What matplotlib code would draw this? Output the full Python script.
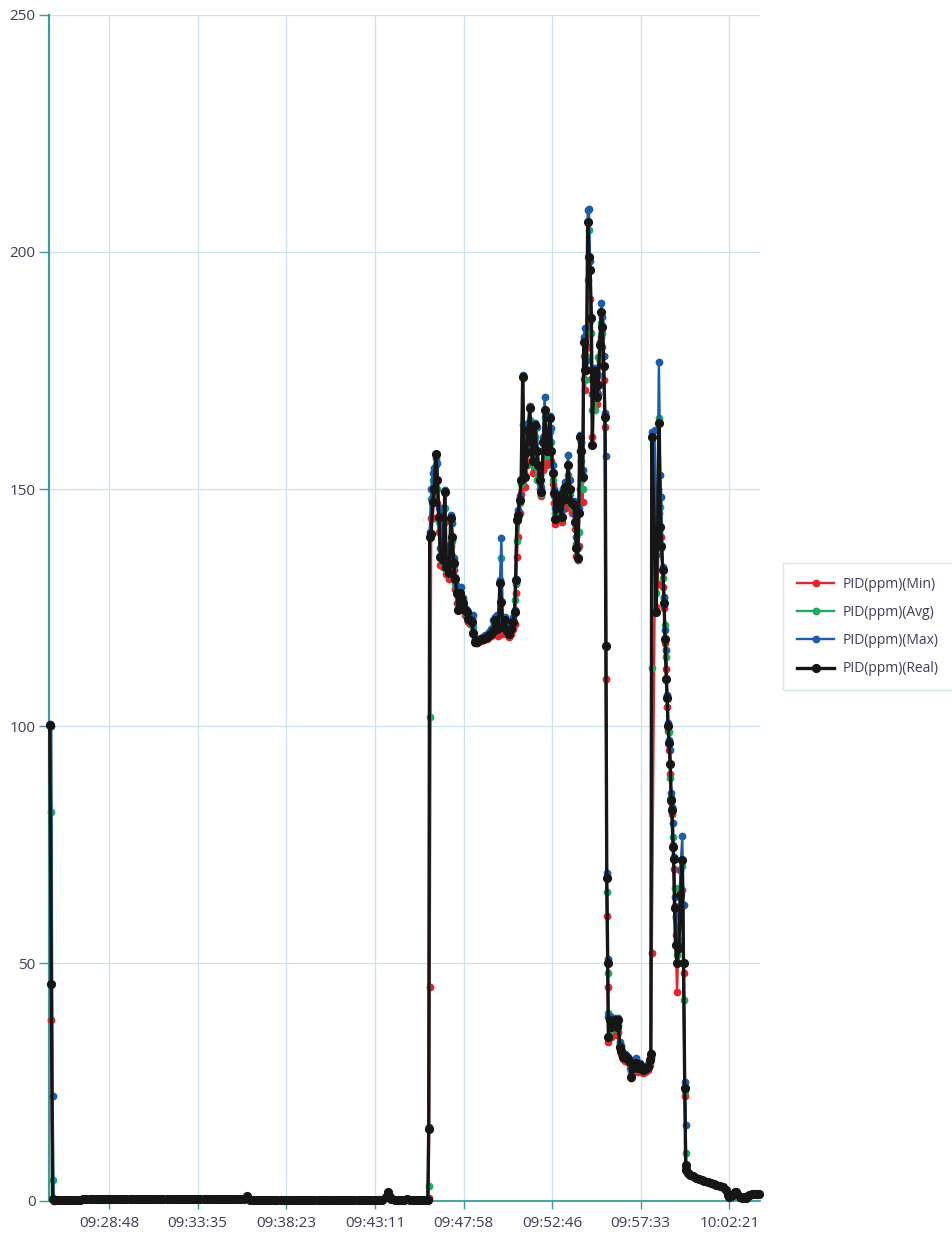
import numpy as np
import matplotlib
matplotlib.use('Agg')
import matplotlib.pyplot as plt
import matplotlib.dates as mdates

plt.rcParams['font.family'] = ['Open Sans', 'DejaVu Sans']

# log start, everything below is seconds after it
log_start = np.datetime64('2021-01-01T09:25:34')

# quiet stretches: every channel reads the same (idle + tail)
quiet_sec = [20, 30, 40, 50, 60, 70, 80, 90, 100, 110, 120, 130, 140, 150, 160, 170, 180,
             190, 200, 210, 220, 230, 240, 250, 260, 270, 280, 290, 300, 310, 320, 330,
             340, 350, 360, 370, 380, 390, 400, 410, 420, 430, 440, 450, 460, 470, 480,
             490, 500, 510, 520, 530, 540, 550, 560, 570, 580, 590, 600, 610, 620, 630,
             641, 650, 660, 670, 680, 690, 700, 710, 720, 730, 740, 750, 760, 770, 780,
             790, 800, 810, 820, 830, 840, 850, 860, 870, 880, 890, 900, 910, 920, 930,
             940, 950, 960, 970, 980, 990, 1000, 1010, 1020, 1030, 1040, 1050, 1060,
             1070, 1080, 1092, 1098, 1104, 1110, 1120, 1130, 1140, 1150, 1160, 1170,
             1180, 1190, 1200, 1210, 1220,
             2071, 2078, 2088, 2097, 2107, 2117, 2126, 2136, 2146, 2156, 2165, 2175,
             2185, 2195, 2201, 2206, 2211, 2217, 2224, 2228, 2233, 2240, 2247, 2253,
             2260, 2266, 2272, 2279, 2285, 2292, 2298, 2302]
quiet_ppm = [0.1, 0.1, 0.1, 0.1, 0.1, 0.1, 0.1, 0.1, 0.1, 0.4, 0.4, 0.4, 0.4, 0.4, 0.4, 0.4, 0.4,
             0.4, 0.4, 0.4, 0.4, 0.4, 0.4, 0.4, 0.4, 0.4, 0.4, 0.4, 0.4, 0.4, 0.4, 0.4,
             0.4, 0.4, 0.4, 0.4, 0.4, 0.4, 0.4, 0.4, 0.4, 0.4, 0.4, 0.4, 0.4, 0.4, 0.4,
             0.4, 0.4, 0.4, 0.4, 0.4, 0.4, 0.4, 0.4, 0.4, 0.4, 0.4, 0.4, 0.4, 0.4, 0.4,
             0.9, 0.1, 0.1, 0.1, 0.1, 0.1, 0.1, 0.1, 0.1, 0.1, 0.1, 0.1, 0.1, 0.1, 0.1,
             0.1, 0.1, 0.1, 0.1, 0.1, 0.1, 0.1, 0.1, 0.1, 0.1, 0.1, 0.1, 0.1, 0.1, 0.1,
             0.1, 0.1, 0.1, 0.1, 0.1, 0.1, 0.1, 0.1, 0.1, 0.1, 0.1, 0.1, 0.1,
             0.1, 0.1, 0.7, 1.9, 0.8, 0.3, 0.2, 0.1, 0.1, 0.1, 0.3, 0.1,
             0.1, 0.1, 0.1, 0.1, 0.1,
             5.8, 5.4, 5.1, 4.8, 4.6, 4.3, 4.1, 3.9, 3.7, 3.5, 3.3, 3.1,
             2.8, 2.3, 1.2, 0.8, 0.9, 1.2, 1.7, 1.9, 1.3, 0.8, 0.6, 0.7,
             0.6, 0.9, 1.2, 1.3, 1.4, 1.3, 1.4, 1.4]

# samples where the channels differ
t_sec = [1, 6, 10, 14,
         1228, 1231, 1234, 1239, 1244, 1249, 1254, 1259, 1264, 1269,
         1273, 1278, 1283, 1288, 1293, 1298, 1302, 1307, 1312, 1317,
         1322, 1327, 1332, 1336, 1341, 1348, 1354, 1359, 1364, 1370,
         1375, 1380, 1387, 1393, 1400, 1406, 1413, 1419, 1426, 1432,
         1439, 1445, 1451, 1457, 1462, 1467, 1471, 1478, 1484, 1491,
         1497, 1504, 1510, 1513, 1517, 1521, 1526, 1531, 1536, 1541,
         1544, 1549, 1554, 1559, 1564, 1568, 1575, 1581, 1586, 1591,
         1597, 1603, 1607, 1614, 1619, 1624, 1629, 1634, 1638, 1641,
         1646, 1651, 1656, 1662, 1667, 1672, 1678, 1683, 1689, 1695,
         1702, 1707, 1710, 1714, 1718, 1721, 1726, 1731, 1734, 1738,
         1743, 1747, 1751, 1755, 1759, 1762, 1766, 1771, 1776, 1781,
         1786, 1791, 1795, 1799, 1803, 1806, 1809, 1812, 1814, 1818,
         1823, 1828, 1834, 1841, 1846, 1851, 1856, 1861, 1867, 1872,
         1878, 1883, 1889, 1894, 1899, 1905, 1910, 1916, 1921, 1926,
         1932, 1937, 1943, 1948, 1952, 1955, 1964, 1969, 1974, 1978,
         1983, 1986, 1991, 1995, 1998, 2002, 2005, 2008, 2011, 2015,
         2018, 2020, 2024, 2026, 2029, 2032, 2037, 2043, 2048, 2054,
         2058, 2062, 2065, 2067]

ppm_real = [100.3, 45.6, 0.3, 0.1,
            0.2, 15.0, 140.0, 140.5, 147.3, 150.0, 157.4, 152.0, 144.2, 135.7,
            136.0, 135.0, 149.4, 133.6, 134.0, 132.3, 143.9, 140.0, 134.4, 131.0,
            128.0, 124.5, 128.0, 127.0, 125.9, 124.5, 124.1, 122.7, 122.3, 122.0,
            119.6, 117.8, 117.8, 118.1, 118.3, 118.5, 118.7, 118.8, 119.2, 119.5,
            120.0, 122.4, 120.5, 121.0, 130.3, 126.2, 121.0, 122.4, 120.0, 119.5,
            120.5, 122.0, 124.1, 130.8, 143.5, 144.5, 147.7, 151.9, 173.7, 155.1,
            152.6, 157.9, 162.4, 167.0, 160.0, 156.0, 163.5, 158.0, 155.1, 152.0,
            149.4, 160.0, 166.7, 158.0, 160.0, 164.9, 158.0, 153.3, 149.1, 143.8,
            146.0, 148.0, 147.0, 144.2, 149.1, 150.5, 148.0, 155.0, 150.0, 147.0,
            146.6, 143.1, 137.5, 135.4, 145.0, 161.0, 158.0, 152.6, 181.1, 175.1,
            175.1, 206.4, 199.0, 196.2, 186.0, 159.3, 173.0, 175.0, 169.5, 172.0,
            180.4, 187.4, 184.2, 176.0, 165.3, 117.0, 68.0, 50.0, 34.5, 38.0,
            36.5, 37.0, 38.0, 36.5, 38.0, 32.4, 31.5, 30.3, 30.5, 30.0,
            29.8, 29.3, 26.1, 27.9, 28.5, 29.0, 27.9, 28.5, 28.0, 27.5,
            27.8, 28.0, 28.2, 29.6, 31.0, 161.0, 139.6, 124.1, 140.0, 164.0,
            142.1, 138.0, 133.0, 126.0, 118.5, 110.0, 105.9, 100.0, 96.4, 92.0,
            84.4, 82.3, 74.6, 72.0, 61.6, 53.9, 50.0, 53.2, 64.4, 71.8,
            50.0, 23.7, 7.5, 6.4]

ppm_min = [100.2, 38.0, 0.1, 0.0,
           0.1, 0.5, 45.0, 144.0, 143.9, 148.0, 150.0, 147.0, 141.0, 134.0,
           135.0, 133.5, 143.0, 132.0, 133.0, 131.0, 138.0, 136.0, 133.0, 129.0,
           126.0, 125.8, 126.0, 125.5, 125.5, 123.5, 123.0, 122.0, 121.5, 121.7,
           119.5, 117.6, 117.6, 117.9, 118.0, 118.2, 118.4, 118.5, 118.8, 119.0,
           119.5, 120.0, 119.5, 119.0, 120.5, 122.0, 119.5, 121.0, 119.5, 118.9,
           119.5, 120.5, 121.5, 128.0, 135.7, 140.0, 145.0, 149.0, 150.5, 153.3,
           150.5, 155.0, 158.0, 160.0, 156.0, 153.3, 158.0, 154.0, 152.0, 150.0,
           148.5, 154.0, 160.0, 155.0, 157.0, 160.0, 156.0, 151.0, 147.0, 142.6,
           144.5, 145.0, 145.5, 143.0, 146.0, 148.0, 146.0, 150.0, 147.0, 145.0,
           145.0, 141.5, 136.0, 135.0, 138.0, 150.0, 152.0, 147.3, 173.3, 171.0,
           177.9, 180.0, 185.0, 190.0, 173.3, 161.0, 170.0, 173.0, 168.0, 170.0,
           177.0, 182.1, 180.0, 173.0, 163.0, 110.0, 60.0, 45.0, 33.5, 35.0,
           34.5, 35.5, 36.0, 35.0, 35.5, 32.0, 31.0, 29.8, 29.5, 29.5,
           29.3, 28.0, 25.8, 27.0, 28.0, 28.3, 27.0, 27.5, 27.0, 26.8,
           27.0, 27.3, 27.5, 28.5, 30.0, 52.1, 124.5, 125.2, 130.0, 144.9,
           139.9, 139.9, 129.4, 125.0, 117.5, 112.0, 104.0, 99.0, 95.0, 90.0,
           84.0, 81.5, 75.0, 70.0, 62.0, 56.0, 44.0, 57.7, 65.0, 65.5,
           48.0, 22.0, 7.0, 6.2]

ppm_avg = [100.3, 82.0, 4.3, 0.2,
           0.2, 3.0, 102.0, 148.0, 151.9, 152.0, 155.0, 150.0, 143.0, 136.0,
           142.0, 134.5, 146.0, 133.0, 136.0, 132.0, 138.6, 139.0, 134.0, 130.0,
           127.7, 125.0, 127.0, 126.5, 126.6, 124.0, 123.8, 122.5, 122.0, 122.3,
           121.0, 118.0, 118.0, 118.2, 118.4, 118.6, 118.8, 119.0, 119.4, 119.7,
           120.3, 121.5, 121.0, 120.5, 123.0, 135.4, 121.0, 122.0, 120.5, 120.0,
           121.0, 122.0, 126.6, 130.0, 139.0, 144.0, 147.0, 151.0, 163.5, 158.0,
           155.0, 163.0, 160.0, 164.6, 158.0, 155.0, 161.0, 151.9, 153.0, 151.0,
           149.0, 158.0, 165.3, 157.0, 159.0, 162.0, 160.0, 152.0, 148.5, 145.0,
           145.5, 146.5, 146.5, 144.0, 148.0, 150.0, 148.0, 153.0, 149.0, 146.5,
           146.0, 143.0, 138.5, 137.5, 141.0, 158.0, 156.0, 150.0, 178.0, 173.0,
           178.0, 194.1, 204.6, 196.5, 183.0, 166.7, 172.0, 166.7, 170.0, 177.9,
           177.9, 185.0, 183.0, 178.0, 165.0, 117.1, 65.0, 48.0, 39.5, 37.0,
           36.0, 37.0, 37.5, 36.3, 37.0, 33.0, 32.0, 30.5, 30.8, 30.2,
           29.9, 28.7, 27.0, 28.0, 28.6, 29.0, 28.0, 28.3, 27.8, 27.3,
           27.6, 27.8, 28.4, 29.3, 31.0, 112.2, 150.5, 128.0, 138.0, 164.9,
           146.3, 137.5, 131.2, 127.0, 121.3, 114.7, 106.0, 100.0, 98.8, 89.0,
           85.0, 82.5, 76.7, 72.0, 65.8, 59.5, 51.8, 55.0, 66.0, 70.5,
           42.3, 23.0, 10.1, 6.6]

ppm_max = [100.4, 100.0, 22.0, 0.3,
           0.3, 15.5, 141.0, 150.0, 153.3, 154.5, 156.5, 155.4, 146.0, 137.5,
           146.0, 136.0, 149.8, 134.5, 138.0, 133.0, 144.5, 142.8, 135.5, 131.5,
           129.5, 126.0, 128.5, 129.4, 127.0, 125.0, 124.6, 123.2, 123.0, 122.8,
           123.4, 118.5, 118.3, 118.4, 118.6, 118.9, 119.2, 119.3, 119.8, 120.5,
           122.4, 123.0, 123.4, 121.5, 130.8, 139.6, 122.0, 123.0, 121.3, 121.0,
           121.5, 123.0, 124.5, 131.0, 143.8, 145.5, 148.5, 152.0, 174.0, 159.0,
           157.2, 163.5, 164.0, 167.5, 162.0, 160.0, 164.0, 163.1, 158.0, 153.0,
           150.5, 161.0, 169.4, 162.0, 162.0, 165.5, 162.8, 155.0, 150.0, 146.0,
           147.5, 149.0, 148.0, 145.5, 150.0, 151.5, 151.5, 157.2, 152.0, 147.3,
           147.5, 144.5, 140.0, 138.0, 146.0, 161.5, 160.0, 154.0, 182.0, 183.9,
           177.0, 208.8, 209.0, 198.0, 186.3, 170.0, 174.0, 175.5, 170.5, 174.0,
           181.0, 189.2, 186.3, 178.0, 166.0, 157.0, 69.0, 51.0, 38.8, 39.0,
           37.5, 38.0, 38.5, 37.0, 38.5, 33.5, 32.5, 31.0, 31.0, 30.6,
           30.3, 29.7, 27.5, 28.5, 29.3, 30.0, 28.5, 29.0, 28.4, 28.0,
           28.2, 28.3, 28.8, 30.0, 31.2, 162.0, 162.4, 136.1, 150.0, 176.8,
           153.0, 148.4, 133.6, 127.3, 120.3, 116.0, 106.5, 100.6, 97.0, 95.0,
           86.0, 83.0, 79.5, 72.5, 64.0, 60.0, 54.0, 58.0, 69.7, 76.9,
           62.3, 25.0, 15.9, 7.0]

tick_labels = ['09:28:48', '09:33:35', '09:38:23', '09:43:11',
               '09:47:58', '09:52:46', '09:57:33', '10:02:21']

series = [('PID(ppm)(Min)', ppm_min, '#e3262e'),
          ('PID(ppm)(Avg)', ppm_avg, '#1faa5f'),
          ('PID(ppm)(Max)', ppm_max, '#1f5ca8'),
          ('PID(ppm)(Real)', ppm_real, '#161616')]

fig = plt.figure(figsize=(9.53, 12.35), dpi=100)
ax = fig.add_axes([0.0519, 0.0279, 0.7455, 0.9601])

for i, (name, vals, col) in enumerate(series):
    secs = np.concatenate([quiet_sec, t_sec])
    ppm = np.concatenate([quiet_ppm, vals])
    order = np.argsort(secs, kind='stable')
    times = log_start + secs[order].astype('timedelta64[s]')
    real = name.endswith('(Real)')
    ax.plot(times, ppm[order], '-o', color=col, lw=2.4 if real else 1.7,
            ms=5.6 if real else 4.6, label=name, clip_on=False, zorder=3 + i)

teal = '#3a9c9c'
ax.set_ylim(0, 250)
ax.set_yticks([0, 50, 100, 150, 200, 250])
ax.set_xlim(log_start, log_start + np.timedelta64(2306, 's'))
ax.set_xticks([np.datetime64('2021-01-01T' + lbl) for lbl in tick_labels])
ax.xaxis.set_major_formatter(mdates.DateFormatter('%H:%M:%S'))

ax.grid(True, color='#c8e4ea', lw=0.9)
ax.set_axisbelow(True)
for side in ['top', 'right']:
    ax.spines[side].set_visible(False)
ax.spines['left'].set_color(teal)
ax.spines['left'].set_linewidth(1.6)
ax.spines['bottom'].set_color(teal)
ax.spines['bottom'].set_linewidth(1.3)
ax.tick_params(axis='both', colors=teal, labelcolor='#3d3d55', labelsize=11)
ax.tick_params(axis='y', length=7, width=1, pad=3)
ax.tick_params(axis='x', length=6, width=1, pad=5)

leg = ax.legend(loc='upper left', bbox_to_anchor=(783 / 953, 1 - 563 / 1235),
                bbox_transform=fig.transFigure, borderaxespad=0, fontsize=10,
                fancybox=False, edgecolor='#cde0e6', handlelength=2.7,
                handletextpad=0.6, borderpad=1.0, labelspacing=0.95)
leg.get_frame().set_linewidth(1.0)
for txt in leg.get_texts():
    txt.set_color('#3d3d55')

fig.savefig('out.png', dpi=100)
